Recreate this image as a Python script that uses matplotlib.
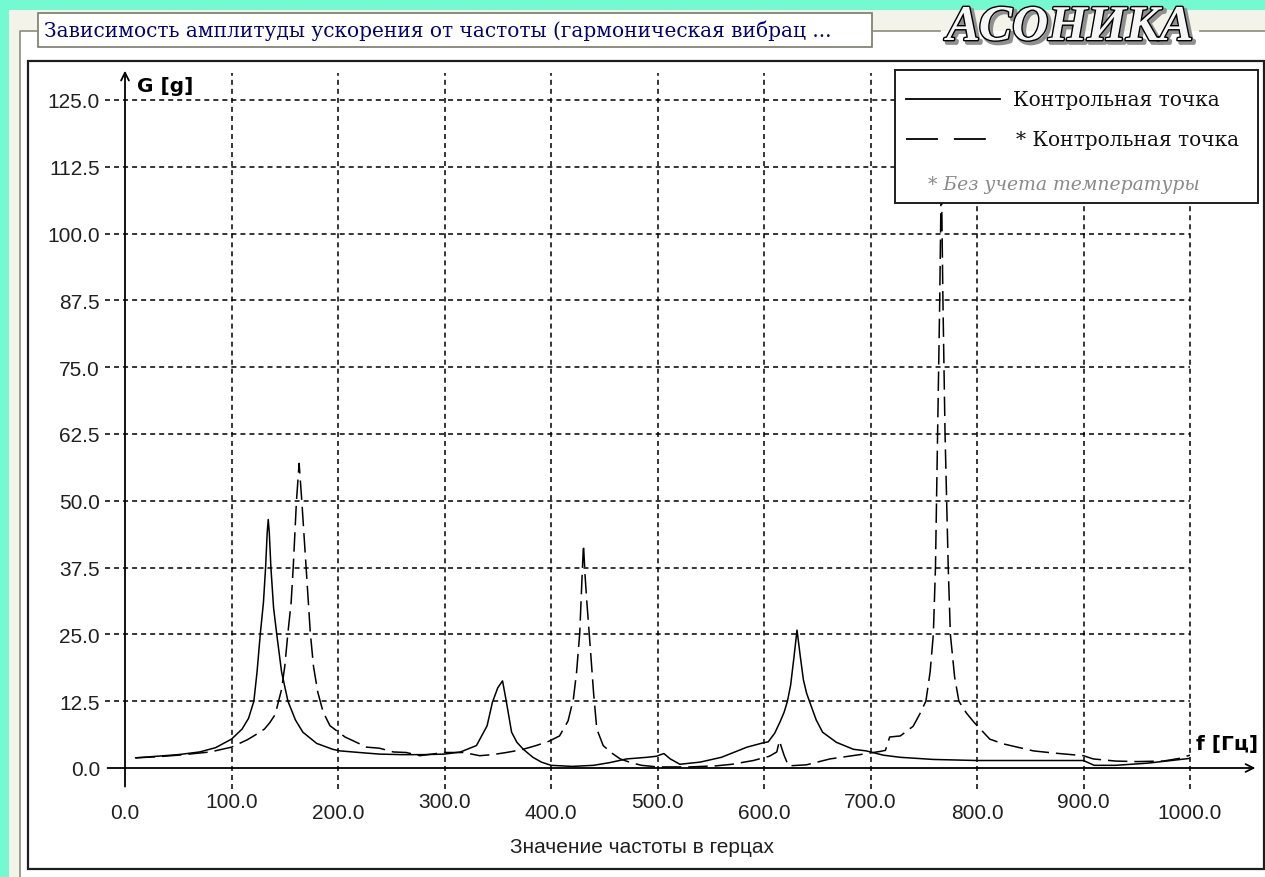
import numpy as np
import matplotlib
matplotlib.use('Agg')
import matplotlib.pyplot as plt
from matplotlib.patches import Rectangle
import matplotlib.patheffects as pe

plt.rcParams['lines.scale_dashes'] = False

# --- data ---
title = 'Зависимость амплитуды ускорения от частоты (гармоническая вибрац ...'
x_label = 'Значение частоты в герцах'
legend_labels = ['Контрольная точка', '* Контрольная точка']
legend_note = '* Без учета температуры'

x_ticks = [0, 100, 200, 300, 400, 500, 600, 700, 800, 900, 1000]
y_ticks = [0, 12.5, 25, 37.5, 50, 62.5, 75, 87.5, 100, 112.5, 125]

# solid curve: "Контрольная точка"
f_solid = [10, 30, 50, 70, 85, 100, 110, 116, 121, 124, 127, 130, 132, 133.5, 134.5,
           135.5, 137, 139.5, 142.5, 147, 153, 160, 167, 180, 195, 202, 220, 239, 260,
           280, 300, 315, 330, 340, 345, 350, 354.5, 358, 363, 368, 374, 383, 391, 400,
           420, 440, 455, 471, 490, 499, 503, 506, 512, 521, 540, 560, 584, 599, 604,
           610, 615, 619, 622, 625, 628, 631, 634, 637, 640, 643, 649, 655, 668, 684,
           696, 712, 728, 759, 800, 850, 900, 910, 930, 960, 1000]
g_solid = [1.9, 2.2, 2.5, 3.0, 3.8, 5.4, 7.3, 9.3, 12.5, 18, 25, 31, 37.5, 44, 46.5,
           44, 37.5, 30, 25, 18, 12.5, 9.0, 6.7, 4.6, 3.5, 3.2, 2.9, 2.6, 2.5,
           2.5, 2.6, 3.0, 4.2, 7.9, 12.3, 15.0, 16.3, 12.5, 6.7, 4.8, 3.5, 2.0, 1.1, 0.5,
           0.3, 0.5, 1.0, 1.7, 2.0, 2.2, 2.5, 2.7, 1.7, 0.7, 1.1, 2.0, 3.9, 4.7, 4.9,
           6.5, 8.6, 10.5, 12.5, 15.5, 20.5, 25.8, 21, 16.5, 14, 12.3, 9.0, 6.7, 4.8, 3.5,
           3.2, 2.4, 2.0, 1.6, 1.4, 1.4, 1.4, 0.5, 0.5, 0.9, 1.8]

# dashed curve: "* Контрольная точка" (without temperature)
f_dashed = [10, 30, 50, 80, 100, 115, 125, 131, 136, 141, 147, 150, 153, 156, 158, 161,
            163.5, 166, 170, 174, 177, 181, 186, 192.5, 206.6, 227, 239, 252, 264, 277,
            288, 300, 318, 333, 345, 358, 372, 386, 398, 408, 416, 421, 424, 427, 429,
            430.5, 432, 433.5, 437, 440, 443, 449, 457, 465, 475, 485, 500, 530, 555,
            570, 590, 605, 612, 614.5, 617, 619, 623, 640, 662, 690, 709, 714, 718, 728,
            740, 746, 752, 756, 759, 761, 763, 765, 766.5, 768, 770, 773, 775, 779, 783,
            790, 797, 812, 825, 853, 872, 900, 909, 930, 950, 975, 990, 1000]
g_dashed = [1.9, 2.1, 2.4, 3.0, 3.9, 5.3, 6.5, 7.3, 8.5, 10, 14.7, 19, 25.3, 31, 37.7, 50,
            57, 50, 37.7, 25.3, 19, 14.2, 10.5, 7.9, 5.8, 3.9, 3.7, 3.0, 2.9, 2.3,
            2.6, 2.9, 2.9, 2.3, 2.5, 2.9, 3.4, 4.2, 5.0, 6.0, 8.8, 12.9, 17.9, 25.3, 35,
            41.8, 36, 31.5, 22.2, 14, 7.3, 4.2, 2.8, 1.7, 1.0, 0.5, 0.2, 0.2, 0.4,
            0.7, 1.4, 2.2, 3.0, 5.1, 3.5, 2.3, 0.4, 0.6, 1.7, 2.5, 3.1, 3.3, 5.8, 6.0,
            7.8, 10, 12.5, 18, 25, 37.5, 62.5, 87.5, 112, 87.5, 62.5, 37.5, 25, 17, 12.5,
            10.3, 8.6, 5.4, 4.5, 3.2, 2.8, 2.3, 1.7, 1.3, 1.2, 1.3, 1.8, 2.4]

W, H = 1265, 878
AQUA = '#74FAD0'
NAVY = '#000080'

fig = plt.figure(figsize=(W / 100, H / 100), dpi=100)
fig.patch.set_facecolor(AQUA)

# background window decorations, in pixel coordinates
bg = fig.add_axes([0, 0, 1, 1])
bg.set_xlim(0, W)
bg.set_ylim(H, 0)
bg.axis('off')
bg.add_patch(Rectangle((9, 11), W - 9, H - 11, fc='#F3F3EA', ec='none'))
bg.add_patch(Rectangle((20, 32), W - 20, H - 32, fc='white', ec='none'))
grp = dict(color='#8C8C7C', lw=1.2)
bg.plot([20, 20, 38], [H, 32, 32], **grp)
bg.plot([872, 940], [32, 32], **grp)
bg.plot([1200, W], [32, 32], **grp)
bg.add_patch(Rectangle((38, 14), 834, 34, fc='white', ec='#7A7A6A', lw=1.2))
bg.text(44, 31, title, family='DejaVu Serif', fontsize=14.5, color=NAVY, va='center')
bg.text(1070, 29, 'АСОНИКА', family='Liberation Serif', weight='bold', style='italic',
        fontsize=36, ha='center', va='center', color='#F6F6F6',
        path_effects=[pe.Stroke(linewidth=3, foreground='#909090', offset=(2, -2)),
                      pe.Stroke(linewidth=2, foreground='black'), pe.Normal()])
bg.add_patch(Rectangle((28, 62), 1264 - 28, 870 - 62, fc='white', ec='#1E1E1E', lw=1.6))

# data axes
ax = fig.add_axes([125 / W, 1 - 769 / H, 1065 / W, 668 / H])
ax.set_xlim(0, 1000)
ax.set_ylim(0, 125)
ax.patch.set_alpha(0)
for s in ax.spines.values():
    s.set_visible(False)

grid_style = dict(colors='black', linestyles=[(0, (3.6, 2.9))], lw=1.1, clip_on=False, zorder=1)
ax.vlines(x_ticks[1:], -4, 130, **grid_style)
ax.hlines(y_ticks[1:], -19, 1000, **grid_style)

arrow = dict(arrowstyle='->', lw=1.3, color='black', mutation_scale=14)
ax.annotate('', xy=(0, 131), xytext=(0, -4), arrowprops=arrow, annotation_clip=False)
ax.annotate('', xy=(1064, 0), xytext=(-19, 0), arrowprops=arrow, annotation_clip=False)

ax.plot(f_solid, g_solid, color='black', lw=1.1, zorder=3)
ax.plot(f_dashed, g_dashed, color='black', lw=1.1, ls=(0, (14, 5)), zorder=3)

tick_font = dict(family='Liberation Sans', size=15)
ax.set_xticks(x_ticks, [f'{v:.1f}' for v in x_ticks], **tick_font, color='#202020')
ax.set_yticks(y_ticks, [f'{v:.1f}' for v in y_ticks], **tick_font, color='#202020')
ax.tick_params(length=0)
ax.tick_params(axis='y', pad=18)
for i, t in enumerate(ax.xaxis.get_major_ticks()):
    t.set_pad(25 if i % 2 == 0 else 17)

ax.set_xlabel(x_label, family='Liberation Sans', size=15, color='#202020', ha='left', va='center')
ax.xaxis.set_label_coords((510 - 125) / 1065, -(848 - 769) / 668)

ax.text(11, 127.8, 'G [g]', family='DejaVu Sans', weight='bold', size=14.5, va='center')
ax.text(1006, 4.5, 'f [Гц]', family='DejaVu Sans', weight='bold', size=14.5, va='center')

# legend box drawn on top, pixel coordinates
lg = fig.add_axes([0, 0, 1, 1])
lg.set_xlim(0, W)
lg.set_ylim(H, 0)
lg.axis('off')
lg.patch.set_alpha(0)
lg.add_patch(Rectangle((895, 71), 1258 - 895, 204 - 71, fc='white', ec='#1E1E1E', lw=1.4))
lg.plot([906, 1000], [100, 100], color='black', lw=1.3)
lg.plot([906, 987], [140, 140], color='black', lw=1.3, ls=(0, (23, 11.5)))
leg_font = dict(family='DejaVu Serif', size=14.5, va='center', color='#101010')
lg.text(1013, 100, legend_labels[0], **leg_font)
lg.text(1016, 140, legend_labels[1], **leg_font)
lg.text(928, 185, legend_note, family='DejaVu Serif', style='italic', size=13.5,
        va='center', color='#8A8A8A')

fig.savefig('out.png', dpi=100, facecolor=fig.get_facecolor())
